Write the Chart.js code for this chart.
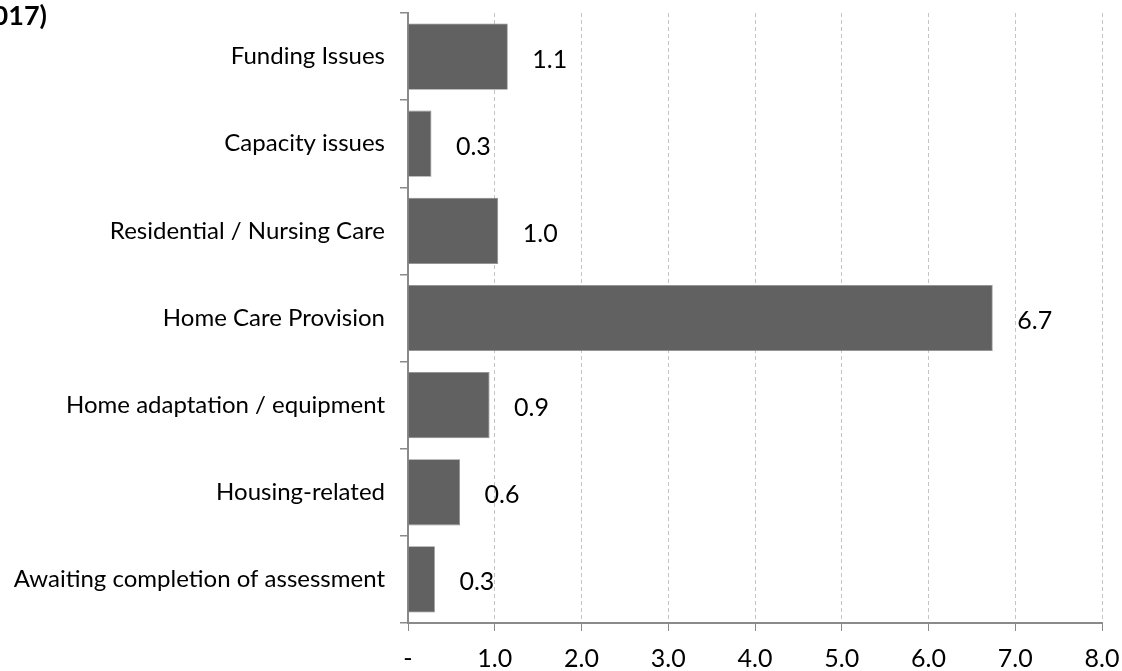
<!DOCTYPE html>
<html>
<head>
<meta charset="utf-8">
<script src="https://cdn.jsdelivr.net/npm/chart.js@4/dist/chart.umd.min.js"></script>
<style>
  html, body { margin:0; padding:0; background:#fff; overflow:hidden; width:1122px; height:671px; }
  #wrap { position:relative; width:1122px; height:671px; }
  #title { position:absolute; top:0; left:-153px; width:200px; text-align:right; font:bold 27px Lato, sans-serif; line-height:30px; color:#000; white-space:nowrap; }
  canvas { position:absolute; left:0; top:0; }
</style>
</head>
<body>
<div id="wrap">
  <canvas id="c" width="1122" height="671"></canvas>
  <div id="title">2017)</div>
</div>
<script>
const categories = [
  'Funding Issues',
  'Capacity issues',
  'Residential / Nursing Care',
  'Home Care Provision',
  'Home adaptation / equipment',
  'Housing-related',
  'Awaiting completion of assessment'
];
const values = [1.15, 0.27, 1.04, 6.74, 0.94, 0.60, 0.31];
const valueLabels = ['1.1', '0.3', '1.0', '6.7', '0.9', '0.6', '0.3'];
const tickLabels = ['-', '1.0', '2.0', '3.0', '4.0', '5.0', '6.0', '7.0', '8.0'];

const FONT = 'Lato, "Open Sans", sans-serif';

const dataLabelPlugin = {
  id: 'dataLabels',
  afterDatasetsDraw(chart) {
    const ctx = chart.ctx;
    const meta = chart.getDatasetMeta(0);
    ctx.save();
    ctx.font = '25px ' + FONT;
    ctx.fillStyle = '#000';
    ctx.textAlign = 'center';
    ctx.textBaseline = 'middle';
    meta.data.forEach((bar, i) => {
      ctx.fillText(valueLabels[i], bar.x + 42, bar.y + 3);
    });
    ctx.restore();
  }
};

new Chart(document.getElementById('c'), {
  type: 'bar',
  data: {
    labels: categories,
    datasets: [{
      data: values,
      backgroundColor: '#616161',
      borderColor: '#8a8a8a',
      borderWidth: 0.8,
      borderSkipped: 'start',
      barPercentage: 0.76,
      categoryPercentage: 1.0
    }]
  },
  options: {
    indexAxis: 'y',
    responsive: false,
    animation: false,
    events: [],
    layout: { padding: { top: 13, right: 20, left: 0, bottom: 0 } },
    plugins: {
      legend: { display: false },
      title: { display: false },
      tooltip: { enabled: false }
    },
    scales: {
      x: {
        min: 0,
        max: 8,
        afterFit(s) { s.height = 48; s.paddingLeft = 0; s.paddingRight = 0; },
        afterBuildTicks(s) {
          s.ticks = tickLabels.map((t, i) => ({ value: i }));
        },
        ticks: {
          stepSize: 1,
          autoSkip: false,
          maxRotation: 0,
          padding: 13,
          color: '#000',
          font: { family: FONT, size: 25 },
          callback: (v, i) => tickLabels[i]
        },
        grid: {
          display: true,
          drawOnChartArea: true,
          drawTicks: true,
          tickLength: 8,
          color: '#c4c4c4',
          tickColor: '#8a8a8a',
          tickBorderDash: [],
          lineWidth: 1
        },
        border: { display: true, color: '#8a8a8a', width: 2, dash: [4, 3] }
      },
      y: {
        afterFit(s) { s.width = 408; s.paddingTop = 0; s.paddingBottom = 0; },
        ticks: {
          autoSkip: false,
          padding: 15,
          color: '#000',
          font: { family: FONT, size: 24 }
        },
        grid: {
          display: true,
          offset: true,
          drawOnChartArea: false,
          drawTicks: true,
          tickLength: 8,
          color: '#8a8a8a',
          lineWidth: 1.5
        },
        border: { display: true, color: '#8a8a8a', width: 2 }
      }
    }
  },
  plugins: [dataLabelPlugin]
});
</script>
</body>
</html>
